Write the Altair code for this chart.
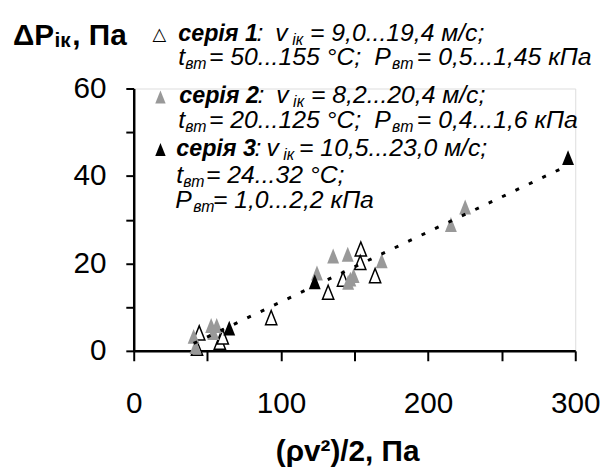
import altair as alt
import pandas as pd

# ---- data ----
s1_x = [44.5, 43.0, 58.5, 60.5, 93.4, 132.1, 142.2, 154.3, 153.9, 164.0]
s1_y = [4.1, 0.6, 2.0, 3.2, 7.6, 13.4, 16.4, 23.3, 20.2, 17.2]
s2_x = [40.7, 42.0, 52.6, 56.4, 54.1, 124.5, 135.5, 145.4, 147.2, 145.7, 149.4, 168.5, 215.5, 225.2]
s2_y = [3.3, 1.0, 5.8, 5.8, 4.2, 17.8, 21.7, 22.1, 16.4, 15.7, 17.2, 20.6, 28.9, 32.9]
s3_x = [64.9, 123.0, 295.1]
s3_y = [5.2, 15.8, 44.2]
trend_x = [40.7, 295.0]
trend_y = [1.7, 42.4]

x_ticks = [0, 50, 100, 150, 200, 250, 300]
y_ticks = [0, 10, 20, 30, 40, 50, 60]

W, H = 446, 265
PADL, PADT = 127, 79
OX, OY = 8 + PADL, 8 + PADT  # page coords of plot origin

TRI = "M0,-1.25L1,1.25L-1,1.25Z"
FONT = "Liberation Sans"

xs = alt.Scale(domain=[0, 300], nice=False)
ys = alt.Scale(domain=[0, 60], nice=False)

xaxis = alt.Axis(values=x_ticks, labelExpr="datum.value % 100 === 0 ? datum.label : ''",
                 tickSize=10, labelPadding=28, labelFontSize=30, labelFont=FONT,
                 labelColor="black", labelFlush=False, labelOverlap=False, title=None,
                 domainColor="black", domainWidth=2.5, tickColor="black", tickWidth=2, grid=False)
yaxis = alt.Axis(values=y_ticks, labelExpr="datum.value % 20 === 0 ? datum.label : ''",
                 tickSize=8, labelPadding=20, labelFontSize=30, labelFont=FONT,
                 labelColor="black", labelFlush=False, labelOverlap=False, title=None,
                 domainColor="black", domainWidth=2.5, tickColor="black", tickWidth=2, grid=False)

d1 = pd.DataFrame({"x": s1_x, "y": s1_y})
d2 = pd.DataFrame({"x": s2_x, "y": s2_y})
d3 = pd.DataFrame({"x": s3_x, "y": s3_y})
dt = pd.DataFrame({"x": trend_x, "y": trend_y})

p1 = alt.Chart(d1).mark_point(shape=TRI, size=130, filled=False, fill="white", fillOpacity=1,
                              stroke="black", strokeWidth=1.5, opacity=1).encode(
    x=alt.X("x:Q", scale=xs, axis=xaxis), y=alt.Y("y:Q", scale=ys, axis=yaxis))
p2 = alt.Chart(d2).mark_point(shape=TRI, size=144, filled=True, color="#999999", opacity=1).encode(
    x=alt.X("x:Q", scale=xs), y=alt.Y("y:Q", scale=ys))
p3 = alt.Chart(d3).mark_point(shape=TRI, size=144, filled=True, color="black", opacity=1).encode(
    x=alt.X("x:Q", scale=xs), y=alt.Y("y:Q", scale=ys))
tr = alt.Chart(dt).mark_line(color="black", strokeWidth=3, strokeDash=[4, 11]).encode(
    x=alt.X("x:Q", scale=xs), y=alt.Y("y:Q", scale=ys))

one = pd.DataFrame({"a": [0]})


def txt(s, x, y, size, weight="normal", style="normal", color="black", font=FONT, align="left"):
    return alt.Chart(one).mark_text(text=s, align=align, baseline="alphabetic", fontSize=size,
                                    fontWeight=weight, fontStyle=style, color=color, font=font).encode(
        x=alt.value(x - OX), y=alt.value(y - OY))


LS = 25     # legend italic text
LB = 23.5   # legend bold "серія N"
SUB = 16    # subscripts


def legend_line(segs, base):
    out = []
    for s, kind, x in segs:
        if kind == "b":
            out.append(txt(s, x, base, LB, weight="bold", style="italic"))
        elif kind == "i":
            out.append(txt(s, x, base, LS, style="italic"))
        else:
            out.append(txt(s, x, base + 4, SUB, style="italic"))
    return out


texts = []
# y title
texts += [txt("ΔP", 13, 43, 30, weight="bold"), txt("ік", 55, 45, 21, weight="bold"),
          txt(", Па", 73, 43, 30, weight="bold")]
# x title
texts += [txt("(ρv²)/2, Па", 351, 463, 30, weight="bold", align="center")]

# legend markers
texts += [txt("△", 154, 38, 18, font="DejaVu Sans")]
leg_pts = []
for cy, col in [(95.5, "#999999"), (148.5, "black")]:
    leg_pts.append(alt.Chart(one).mark_point(shape=TRI, size=110, filled=True, color=col, opacity=1).encode(
        x=alt.value(162 - OX), y=alt.value(cy - OY)))

texts += legend_line([("серія 1", "b", 180), (":", "i", 259), ("v", "i", 278), ("ік", "s", 295),
                      ("= 9,0...19,4 м/с;", "i", 313)], 39)
texts += legend_line([("t", "i", 180), ("вт", "s", 187), ("= 50...155 °C;", "i", 211),
                      ("P", "i", 378), ("вт", "s", 396), ("= 0,5...1,45 кПа", "i", 421)], 63)
texts += legend_line([("серія 2", "b", 181), (":", "i", 260), ("v", "i", 279), ("ік", "s", 296),
                      ("= 8,2...20,4 м/с;", "i", 314)], 102)
texts += legend_line([("t", "i", 180), ("вт", "s", 187), ("= 20...125 °C;", "i", 211),
                      ("P", "i", 378), ("вт", "s", 396), ("= 0,4...1,6 кПа", "i", 421)], 127)
texts += legend_line([("серія 3", "b", 178), (":", "i", 257), ("v", "i", 269), ("ік", "s", 286),
                      ("= 10,5...23,0 м/с;", "i", 302)], 155)
texts += legend_line([("t", "i", 178), ("вт", "s", 185), ("= 24...32 °C;", "i", 208)], 182)
texts += legend_line([("P", "i", 177), ("вт", "s", 195), ("= 1,0...2,2 кПа", "i", 215)], 208)

chart = alt.layer(p1, p2, p3, tr, *leg_pts, *texts).properties(
    width=W, height=H, autosize="none",
    padding={"left": PADL, "top": PADT, "right": 26, "bottom": 115},
).configure_view(stroke=None).configure(background="white")

chart.save("out.html", embed_options={"renderer": "svg", "actions": False})
